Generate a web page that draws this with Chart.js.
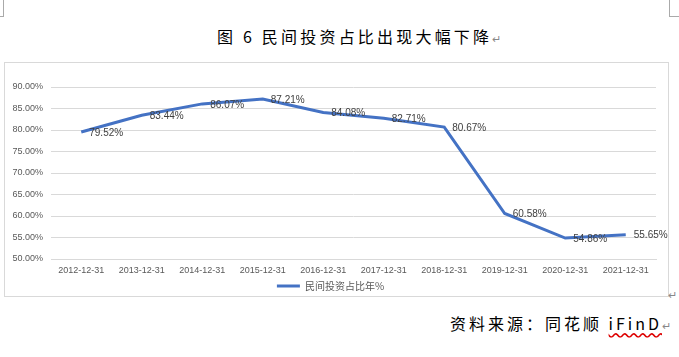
<!DOCTYPE html>
<html><head><meta charset="utf-8">
<script src="https://cdn.jsdelivr.net/npm/chart.js@4/dist/chart.umd.min.js"></script>
<style>
html,body{margin:0;padding:0;background:#fff;width:679px;height:357px;overflow:hidden;position:relative;font-family:"Noto Sans CJK SC",sans-serif;}
#title{position:absolute;left:217px;top:25px;font-size:16px;letter-spacing:3.2px;color:#000;line-height:22px;white-space:nowrap;}
#src{position:absolute;right:8px;top:312px;font-size:16px;letter-spacing:3px;color:#000;line-height:22px;}
.rm{color:#888;font-size:11px;letter-spacing:0;}
#box{position:absolute;left:4px;top:62px;width:663px;height:233px;border:1px solid #d9d9d9;}
#c{position:absolute;left:0;top:0;}
.mk{position:absolute;background:#aaa;}
</style></head><body>
<div class="mk" style="left:3px;top:0;width:1px;height:16px"></div>
<div class="mk" style="left:0;top:16px;width:4px;height:1px"></div>
<div class="mk" style="left:669px;top:0;width:1px;height:16px"></div>
<div class="mk" style="left:669px;top:16px;width:10px;height:1px"></div>
<div id="title">图 6 民间投资占比出现大幅下降<span class="rm">↵</span></div>
<div id="box"><canvas id="c" width="663" height="238"></canvas></div>
<div style="position:absolute;left:668px;top:286px;color:#888;font-size:11px">↵</div>
<div id="src">资料来源：同花顺 <span style="text-decoration:underline wavy #d00;text-underline-offset:2px">iFinD</span><span class="rm">↵</span></div>
<script>
const categories=["2012-12-31","2013-12-31","2014-12-31","2015-12-31","2016-12-31","2017-12-31","2018-12-31","2019-12-31","2020-12-31","2021-12-31"];
const shareValues=[79.52,83.44,86.07,87.21,84.08,82.71,80.67,60.58,54.86,55.65];
const seriesName="民间投资占比年%";
const yMin=50, yMax=90, yStep=5;

const labelPlugin={id:'lbl',afterDatasetsDraw(chart){
  const ctx=chart.ctx; const meta=chart.getDatasetMeta(0);
  ctx.save(); ctx.font='10px "Liberation Sans", Arial, sans-serif'; ctx.fillStyle='#404040';
  ctx.textBaseline='middle'; ctx.textAlign='left';
  meta.data.forEach((p,i)=>{ctx.fillText(shareValues[i].toFixed(2)+'%',p.x+8,p.y+1);});
  ctx.restore();
}};

new Chart(document.getElementById('c'),{
  type:'line',
  data:{labels:categories,datasets:[{label:seriesName,data:shareValues,borderColor:'#4472C4',backgroundColor:'#4472C4',borderWidth:3,pointRadius:0,tension:0,fill:false}]},
  options:{responsive:false,animation:false,
    layout:{padding:{left:0,right:12,top:24,bottom:0}},
    plugins:{legend:{position:'bottom',labels:{usePointStyle:true,pointStyle:'line',pointStyleWidth:23,boxWidth:23,padding:0,color:'#595959',font:{size:10,family:'"Noto Sans CJK SC"'}}},tooltip:{enabled:false}},
    scales:{
      x:{offset:true,grid:{display:false,drawTicks:false},border:{color:'#d9d9d9'},afterFit:s=>{s.height=22;},ticks:{color:'#595959',font:{size:9,family:'"Liberation Sans", Arial'},maxRotation:0,autoSkip:false,padding:6}},
      y:{min:yMin,max:yMax,afterFit:s=>{s.width=46;},grid:{color:'#d9d9d9',drawTicks:false},border:{display:false},ticks:{stepSize:yStep,color:'#595959',padding:8,font:{size:9,family:'"Liberation Sans", Arial'},callback:v=>v.toFixed(2)+'%'}}
    }},
  plugins:[labelPlugin]
});
</script></body></html>
